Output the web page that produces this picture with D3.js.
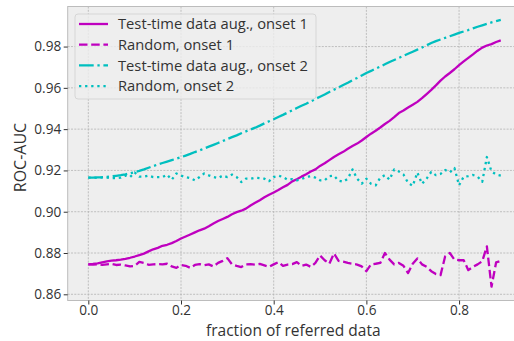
<!DOCTYPE html>
<html><head><meta charset="utf-8">
<script src="https://cdn.jsdelivr.net/npm/d3@7"></script>
<style>body{margin:0;background:#fff}svg{display:block}text{font-family:"Open Sans","Noto Sans",sans-serif;fill:#333}</style>
</head><body><svg id="c" width="514" height="341"></svg>
<script>
const fractions = d3.range(90).map(i => i / 100);
const ttaOnset1 = [0.8745,0.8747,0.8750,0.8755,0.8760,0.8763,0.8765,0.8768,0.8772,0.8777,
0.8783,0.8790,0.8797,0.8808,0.8818,0.8825,0.8835,0.8840,0.8848,0.8858,
0.8870,0.8880,0.8890,0.8900,0.8910,0.8918,0.8930,0.8943,0.8955,0.8965,
0.8975,0.8988,0.8998,0.9005,0.9015,0.9030,0.9043,0.9056,0.9070,0.9082,
0.9093,0.9105,0.9118,0.9130,0.9147,0.9157,0.9170,0.9182,0.9195,0.9205,
0.9222,0.9235,0.9250,0.9265,0.9278,0.9290,0.9305,0.9318,0.9330,0.9345,
0.9362,0.9378,0.9392,0.9408,0.9425,0.9440,0.9458,0.9478,0.9490,0.9505,
0.9518,0.9532,0.9550,0.9570,0.9590,0.9612,0.9635,0.9655,0.9672,0.9690,
0.9710,0.9728,0.9745,0.9762,0.9780,0.9795,0.9805,0.9812,0.9822,0.9830];
const randOnset1 = [0.8745,0.8744,0.8746,0.8743,0.8745,0.8747,0.8742,0.8744,0.8740,0.8735,
0.8738,0.8757,0.8752,0.8743,0.8745,0.8746,0.8745,0.8748,0.8735,0.8728,
0.8742,0.8738,0.8728,0.8742,0.8746,0.8741,0.8745,0.8735,0.8752,0.8762,
0.8775,0.8745,0.8738,0.8732,0.8745,0.8746,0.8744,0.8747,0.8740,0.8733,
0.8745,0.8756,0.8738,0.8744,0.8746,0.8756,0.8738,0.8744,0.8733,0.8752,
0.8788,0.8765,0.8748,0.8798,0.8762,0.8758,0.8752,0.8748,0.8744,0.8735,
0.8712,0.8745,0.8748,0.8752,0.8800,0.8768,0.8745,0.8752,0.8738,0.8703,
0.8748,0.8774,0.8745,0.8733,0.8712,0.8698,0.8693,0.8784,0.8800,0.8768,
0.8765,0.8765,0.8717,0.8733,0.8745,0.8760,0.8832,0.8637,0.8755,0.8762];
const ttaOnset2 = [0.9165,0.9165,0.9166,0.9167,0.9169,0.9171,0.9174,0.9177,0.9181,0.9186,
0.9192,0.9198,0.9205,0.9213,0.9221,0.9229,0.9236,0.9243,0.9250,0.9257,
0.9264,0.9272,0.9280,0.9289,0.9297,0.9306,0.9315,0.9324,0.9333,0.9342,
0.9352,0.9361,0.9370,0.9380,0.9389,0.9398,0.9407,0.9417,0.9428,0.9438,
0.9448,0.9459,0.9469,0.9480,0.9491,0.9502,0.9513,0.9523,0.9534,0.9546,
0.9557,0.9568,0.9580,0.9591,0.9602,0.9614,0.9625,0.9637,0.9648,0.9660,
0.9672,0.9682,0.9693,0.9703,0.9714,0.9725,0.9735,0.9745,0.9755,0.9765,
0.9775,0.9785,0.9795,0.9806,0.9817,0.9826,0.9834,0.9842,0.9850,0.9858,
0.9866,0.9873,0.9880,0.9888,0.9896,0.9903,0.9910,0.9917,0.9923,0.9929];
const randOnset2 = [0.9165,0.9165,0.9164,0.9166,0.9165,0.9163,0.9163,0.9165,0.9175,0.9168,
0.9190,0.9170,0.9170,0.9175,0.9168,0.9168,0.9168,0.9180,0.9155,0.9185,
0.9175,0.9168,0.9163,0.9152,0.9168,0.9185,0.9176,0.9168,0.9163,0.9175,
0.9168,0.9180,0.9168,0.9144,0.9160,0.9160,0.9165,0.9163,0.9160,0.9148,
0.9168,0.9175,0.9168,0.9155,0.9158,0.9152,0.9158,0.9168,0.9172,0.9165,
0.9152,0.9152,0.9172,0.9175,0.9150,0.9145,0.9160,0.9205,0.9160,0.9136,
0.9160,0.9135,0.9128,0.9165,0.9177,0.9155,0.9205,0.9195,0.9180,0.9140,
0.9125,0.9190,0.9135,0.9160,0.9193,0.9177,0.9183,0.9202,0.9190,0.9212,
0.9128,0.9170,0.9172,0.9178,0.9170,0.9145,0.9265,0.9195,0.9180,0.9175];
const xTicks = [0.0, 0.2, 0.4, 0.6, 0.8];
const yTicks = [0.86, 0.88, 0.90, 0.92, 0.94, 0.96, 0.98];
const seriesNames = ["Test-time data aug., onset 1", "Random, onset 1", "Test-time data aug., onset 2", "Random, onset 2"];
const seriesColors = ["#bf00bf", "#bf00bf", "#00bfbf", "#00bfbf"];
const seriesDashes = [null, "8.5,3.7", "14.7,3.7,2.3,3.7", "2.3,3.8"];
const seriesValues = [ttaOnset1, randOnset1, ttaOnset2, randOnset2];

const svg = d3.select("#c");
const x = d3.scaleLinear().domain([-0.0445, 0.9345]).range([67.7, 521.4]);
const y = d3.scaleLinear().domain([0.857, 0.9994]).range([300.5, 6.5]);
const [x0, x1] = x.range(), [yb, yt] = y.range();

function fit(sel, target) {
  const w = sel.node().getComputedTextLength();
  const fs = parseFloat(sel.style("font-size"));
  if (w > 0) sel.style("font-size", (fs * target / w) + "px");
}

svg.append("rect").attr("x", x0).attr("y", yt).attr("width", x1 - x0).attr("height", yb - yt).attr("fill", "#eeeeee");

const g = svg.append("g").attr("stroke", "#b2b2b2").attr("stroke-width", 0.8).attr("stroke-dasharray", "2,1.3");
xTicks.forEach(t => g.append("line").attr("x1", x(t)).attr("x2", x(t)).attr("y1", yt).attr("y2", yb));
yTicks.forEach(t => g.append("line").attr("y1", y(t)).attr("y2", y(t)).attr("x1", x0).attr("x2", x1));

svg.append("rect").attr("x", x0).attr("y", yt).attr("width", x1 - x0).attr("height", yb - yt)
  .attr("fill", "none").attr("stroke", "#bcbcbc").attr("stroke-width", 1);

const xAxis = svg.append("g").attr("transform", `translate(0,${yb})`)
  .call(d3.axisBottom(x).tickValues(xTicks).tickFormat(d3.format(".1f")).tickSize(4).tickPadding(1));
const yAxis = svg.append("g").attr("transform", `translate(${x0},0)`)
  .call(d3.axisLeft(y).tickValues(yTicks).tickFormat(d3.format(".2f")).tickSize(4).tickPadding(2.5));
[xAxis, yAxis].forEach(a => {
  a.select(".domain").remove();
  a.selectAll(".tick line").attr("stroke", "#333");
  a.selectAll(".tick text").style("font-size", "13.6px").style("font-family", "Open Sans").attr("fill", "#333");
});

const line = vals => d3.line().x((d, i) => x(fractions[i])).y(d => y(d))(vals);
seriesValues.forEach((vals, k) => {
  svg.append("path").attr("d", line(vals)).attr("fill", "none")
    .attr("stroke", seriesColors[k]).attr("stroke-width", 2.3)
    .attr("stroke-dasharray", seriesDashes[k]).attr("stroke-linejoin", "round");
});

const lg = svg.append("g");
lg.append("rect").attr("x", 75).attr("y", 14).attr("width", 241).attr("height", 85).attr("rx", 3)
  .attr("fill", "#eeeeee").attr("fill-opacity", 0.8).attr("stroke", "#d6d6d6").attr("stroke-width", 1);
seriesNames.forEach((name, k) => {
  const ry = 24 + k * 20.7;
  lg.append("line").attr("x1", 79).attr("x2", 108).attr("y1", ry).attr("y2", ry)
    .attr("stroke", seriesColors[k]).attr("stroke-width", 2.3).attr("stroke-dasharray", seriesDashes[k]);
  const t = lg.append("text").attr("x", 118).attr("y", ry).attr("dy", "0.36em").style("font-size", "14px").text(name);
  if (k === 0) fit(t, 190);
  else t.style("font-size", lg.select("text").style("font-size"));
});

svg.append("text").attr("x", 293.3).attr("y", 336.2).attr("text-anchor", "middle")
  .style("font-size", "15.5px").text("fraction of referred data");
svg.append("text").attr("transform", `translate(26.3,157.5) rotate(-90)`).attr("text-anchor", "middle")
  .style("font-size", "16px").text("ROC-AUC");
</script></body></html>
